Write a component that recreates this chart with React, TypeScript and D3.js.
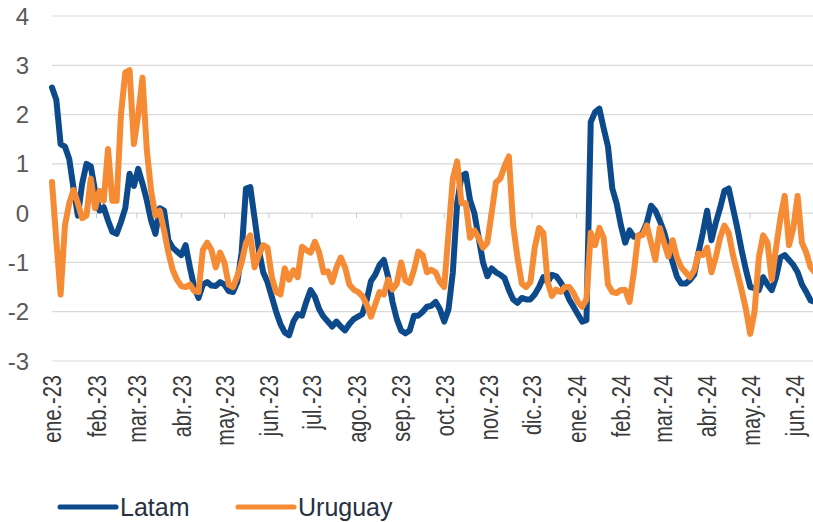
import React from "react";
import * as d3 from "d3";

const START = new Date(2023, 0, 1);
const STEP_DAYS = 3;

const latam: number[] = [
  2.55, 2.3, 1.4, 1.35, 1.1, 0.5, -0.05, 0.6, 1.0, 0.95,
  0.45, 0.05, 0.12, -0.15, -0.38, -0.42, -0.18, 0.1, 0.8, 0.55,
  0.9, 0.6, 0.26, -0.15, -0.42, 0.1, 0.05, -0.55, -0.7, -0.78,
  -0.85, -0.65, -1.1, -1.5, -1.72, -1.45, -1.4, -1.47, -1.48, -1.4,
  -1.45, -1.58, -1.6, -1.4, -0.8, 0.5, 0.53, -0.1, -0.75, -1.2,
  -1.4, -1.7, -2.0, -2.25, -2.42, -2.48, -2.2, -2.05, -2.08, -1.8,
  -1.56, -1.7, -1.95, -2.1, -2.2, -2.3, -2.2, -2.3, -2.38, -2.25,
  -2.15, -2.1, -2.05, -1.77, -1.38, -1.25, -1.05, -0.95, -1.3, -1.8,
  -2.15, -2.38, -2.44, -2.38, -2.08, -2.08, -2.0, -1.9, -1.88, -1.8,
  -1.95, -2.2, -1.95, -1.2, 0.2, 0.75, 0.8, 0.26, 0.0, -0.5,
  -1.0, -1.28, -1.12, -1.2, -1.25, -1.32, -1.56, -1.75, -1.82, -1.72,
  -1.75, -1.75, -1.65, -1.5, -1.3, -1.4, -1.25, -1.28, -1.4, -1.55,
  -1.75, -1.9, -2.05, -2.2, -2.17, 1.85, 2.05, 2.12, 1.72, 1.35,
  0.5, 0.2, -0.25, -0.6, -0.35, -0.48, -0.48, -0.4, -0.2, 0.15,
  0.05, -0.15, -0.38, -0.7, -1.0, -1.29, -1.43, -1.43, -1.36, -1.25,
  -0.8, -0.4, 0.05, -0.55, -0.2, 0.1, 0.45, 0.5, 0.1, -0.3,
  -0.75, -1.15, -1.5, -1.52, -1.56, -1.3, -1.45, -1.56, -1.3, -0.9,
  -0.85, -0.95, -1.05, -1.2, -1.45, -1.6, -1.77, -1.8,
];

const uruguay: number[] = [
  0.63, -0.55, -1.65, -0.25, 0.2, 0.47, 0.2, -0.1, -0.05, 0.7,
  0.1, 0.45, 0.25, 1.3, 0.25, 0.25, 2.0, 2.85, 2.9, 1.4,
  2.0, 2.75, 1.28, 0.45, -0.05, 0.05, -0.35, -0.8, -1.15, -1.35,
  -1.48, -1.5, -1.45, -1.58, -1.6, -0.75, -0.6, -0.75, -1.1, -0.8,
  -1.0, -1.45, -1.5, -1.28, -1.0, -0.6, -0.45, -1.1, -0.85, -0.65,
  -0.7, -1.3, -1.6, -1.65, -1.12, -1.35, -1.16, -1.3, -0.68, -0.75,
  -0.8, -0.58, -0.8, -1.2, -1.18, -1.4, -1.1, -0.9, -1.1, -1.45,
  -1.55, -1.6, -1.68, -1.85, -2.1, -1.85, -1.6, -1.65, -1.35, -1.55,
  -1.43, -1.0, -1.36, -1.42, -1.15, -0.78, -0.85, -1.2, -1.15, -1.2,
  -1.4, -1.5, -0.4, 0.7, 1.05, 0.2, 0.2, -0.5, -0.35, -0.5,
  -0.7, -0.6, 0.0, 0.62, 0.7, 0.95, 1.15, -0.25, -0.9, -1.43,
  -1.5, -1.4, -0.7, -0.3, -0.4, -1.4, -1.68, -1.55, -1.6, -1.5,
  -1.5, -1.62, -1.8, -1.9, -1.75, -0.4, -0.65, -0.3, -0.5, -1.45,
  -1.6, -1.62, -1.56, -1.56, -1.8, -1.2, -0.45, -0.45, -0.25, -0.6,
  -0.95, -0.3, -0.6, -0.88, -0.55, -0.9, -1.1, -1.2, -1.3, -1.16,
  -0.82, -0.85, -0.7, -1.2, -0.9, -0.5, -0.25, -0.4, -0.85, -1.2,
  -1.56, -1.95, -2.45, -2.0, -0.9, -0.45, -0.6, -1.35, -0.7, -0.1,
  0.35, -0.65, -0.3, 0.35, -0.6, -0.8, -1.1, -1.2,
];

const yTicks: number[] = [4, 3, 2, 1, 0, -1, -2, -3];
const monthLabels: string[] = [
  "ene.-23", "feb.-23", "mar.-23", "abr.-23", "may.-23", "jun.-23",
  "jul.-23", "ago.-23", "sep.-23", "oct.-23", "nov.-23", "dic.-23",
  "ene.-24", "feb.-24", "mar.-24", "abr.-24", "may.-24", "jun.-24",
];
const seriesNames: string[] = ["Latam", "Uruguay"];
const seriesColors: string[] = ["#0d4a8c", "#f68b35"];

const W = 813;
const H = 522;
const FONT = "'Liberation Sans', Arial, sans-serif";

export default function App() {
  const dates = latam.map((_, i) => d3.timeDay.offset(START, STEP_DAYS * i));
  const x = d3
    .scaleTime()
    .domain([START, new Date(2024, 5, 13)])
    .range([52, 812]);
  const y = d3.scaleLinear().domain([-3, 4]).range([361, 16]);
  const months = monthLabels.map((_, i) => d3.timeMonth.offset(START, i));

  const line = d3
    .line<number>()
    .x((_, i) => x(dates[i]))
    .y((v) => y(v))
    .curve(d3.curveLinear);

  const series = [latam, uruguay];

  return (
    <svg
      width={W}
      height={H}
      style={{ position: "absolute", left: 0, top: 0, display: "block", background: "#fff" }}
      fontFamily={FONT}
    >
      <defs>
        <clipPath id="plot">
          <rect x={0} y={0} width={W} height={372} />
        </clipPath>
      </defs>
      {yTicks.map((t) => (
        <g key={t}>
          <line x1={52} x2={W} y1={y(t)} y2={y(t)} stroke="#d9d9d9" strokeWidth={1.2} />
          <text
            x={29}
            y={y(t)}
            textAnchor="end"
            dominantBaseline="central"
            fontSize={24}
            fill="#595959"
          >
            {t}
          </text>
        </g>
      ))}
      {months.map((m, i) => (
        <line
          key={"tk" + i}
          x1={x(m)}
          x2={x(m)}
          y1={y(0)}
          y2={y(0) + 5}
          stroke="#c8c8c8"
          strokeWidth={1}
        />
      ))}
      {months.map((m, i) => (
        <text
          key={"ml" + i}
          transform={`translate(${x(m)},375) rotate(-90) scale(1,1.3)`}
          textAnchor="end"
          dy="0.36em"
          fontSize={20}
          fill="#3a3a3a"
        >
          {monthLabels[i]}
        </text>
      ))}
      <g clipPath="url(#plot)">
        {series.map((s, k) => (
          <path
            key={seriesNames[k]}
            d={line(s) || ""}
            fill="none"
            stroke={seriesColors[k]}
            strokeWidth={6}
            strokeLinejoin="round"
            strokeLinecap="round"
          />
        ))}
      </g>
      {seriesNames.map((n, k) => {
        const lx = k === 0 ? 60 : 238;
        return (
          <g key={"lg" + n}>
            <line
              x1={lx}
              x2={lx + 56}
              y1={507}
              y2={507}
              stroke={seriesColors[k]}
              strokeWidth={5}
              strokeLinecap="round"
            />
            <text
              x={lx + 60}
              y={507}
              dominantBaseline="central"
              fontSize={25}
              fill="#27303f"
            >
              {n}
            </text>
          </g>
        );
      })}
    </svg>
  );
}
